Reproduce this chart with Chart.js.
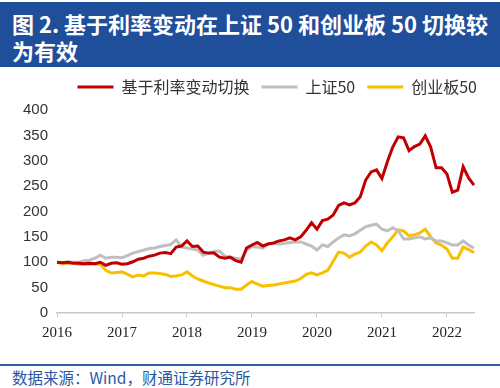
<!DOCTYPE html>
<html>
<head>
<meta charset="utf-8">
<script src="https://cdn.jsdelivr.net/npm/chart.js@4"></script>
<style>
  body { margin: 0; width: 500px; height: 388px; background: #fff; position: relative; overflow: hidden; }
  .titulo {
    position: absolute; top: 2px; left: 0; width: 488px; height: 57px;
    padding: 8px 0 0 12px; background: #1f4e9b; color: #fff;
    font: bold 22px "Noto Sans CJK SC", sans-serif; line-height: 27px;
  }
  .grafico { position: absolute; top: 70px; left: 0; width: 500px; height: 279px; }
  .linha { position: absolute; top: 364px; left: 0; width: 500px; height: 2px; background: #2f5fa8; }
  .fonte {
    position: absolute; top: 366px; left: 12px; color: #2858a5;
    font: 15.5px "Noto Sans CJK SC", sans-serif;
  }
</style>
</head>
<body>
<div class="titulo">图 2. 基于利率变动在上证 50 和创业板 50 切换较<br>为有效</div>
<div class="grafico"><canvas id="myChart" width="500" height="279"></canvas></div>
<div class="linha"></div>
<div class="fonte">数据来源：Wind，财通证券研究所</div>

<script>
// meses de 2016-01 a 2022-06
const meses = [];
for (let a = 2016; a <= 2022; a++) {
    for (let m = 1; m <= 12; m++) {
        if (a === 2022 && m > 6) break;
        meses.push(a + '-' + String(m).padStart(2, '0'));
    }
}

const nomes = ['基于利率变动切换', '上证50', '创业板50'];

const trocaJuros = [
    100, 99, 100, 98, 98, 97, 98, 97, 100, 94, 98, 99,
    96, 97, 101, 106, 108, 112, 114, 118, 119, 117, 130, 132,
    142, 131, 132, 120, 118, 118, 110, 108, 110, 103, 100, 128,
    134, 139, 132, 136, 138, 142, 144, 148, 144, 150, 163, 178,
    165, 182, 185, 193, 212, 217, 213, 217, 229, 262, 278, 282,
    265, 298, 327, 347, 345, 320, 328, 333, 349, 327, 286, 286,
    274, 238, 242, 288, 266, 252
];

const sz50 = [
    100, 99, 101, 100, 100, 103, 104, 108, 114, 108, 110, 110,
    109, 113, 118, 121, 124, 127, 128, 131, 133, 135, 144, 130,
    128, 126, 124, 114, 118, 121, 122, 112, 110, 108, 106, 124,
    131, 130, 128, 137, 137, 136, 137, 139, 140, 140, 136, 132,
    124, 134, 131, 140, 148, 154, 152, 156, 163, 170, 173, 175,
    165, 162, 168, 162, 146, 146, 148, 150, 146, 148, 142, 142,
    138, 134, 134, 142, 134, 128
];

const cyb50 = [
    100, 97, 98, 99, 96, 96, 96, 97, 96, 84, 79, 80,
    81, 76, 71, 75, 73, 79, 79, 78, 76, 72, 73, 75,
    81, 73, 67, 63, 59, 56, 53, 50, 50, 47, 47, 55,
    62, 57, 53, 54, 55, 57, 59, 61, 63, 68, 76, 79,
    75, 79, 84, 102, 120, 118, 110, 116, 120, 132, 140, 134,
    123, 138, 150, 164, 162, 152, 154, 158, 165, 150, 138, 134,
    126, 108, 108, 130, 125, 119
];

const cores = ['#c00000', '#bfbfbf', '#f8c000'];

// legenda: um pouco mais de espaço embaixo e deslocada para a direita
const ajusteLegenda = {
    id: 'ajusteLegenda',
    beforeInit(chart) {
        const leg = chart.legend;
        const fit = leg.fit;
        leg.fit = function () {
            fit.call(this);
            this.height += 2;
        };
        const draw = leg.draw;
        leg.draw = function () {
            const c = this.ctx;
            c.save();
            c.translate(15, -3);
            draw.call(this);
            c.restore();
        };
    }
};

const ctx = document.getElementById('myChart');

new Chart(ctx, {
    type: 'line',
    data: {
        labels: meses,
        datasets: [trocaJuros, sz50, cyb50].map((serie, i) => ({
            label: nomes[i],
            data: serie,
            borderColor: cores[i],
            backgroundColor: cores[i],
            borderWidth: 3,
            pointRadius: 0,
            tension: 0,
            fill: false
        }))
    },
    plugins: [ajusteLegenda],
    options: {
        responsive: false,
        animation: false,
        layout: { padding: { left: 14, right: 26, top: 0, bottom: 0 } },
        plugins: {
            legend: {
                position: 'top',
                align: 'end',
                labels: {
                    usePointStyle: true,
                    pointStyle: 'line',
                    pointStyleWidth: 36,
                    padding: 12,
                    color: '#333',
                    font: { family: '"Noto Sans CJK SC"', size: 16 }
                }
            },
            tooltip: { enabled: false }
        },
        scales: {
            x: {
                grid: { display: true, drawOnChartArea: false, drawTicks: true, tickLength: 4, color: '#c8c8c8' },
                border: { color: '#c8c8c8', width: 1.5 },
                ticks: {
                    autoSkip: false,
                    maxRotation: 0,
                    padding: 7,
                    color: '#222',
                    font: { family: '"Liberation Serif"', size: 15 },
                    callback: function (v, i) {
                        const lab = meses[i];
                        return lab.endsWith('-01') ? lab.slice(0, 4) : null;
                    }
                }
            },
            y: {
                min: 0,
                max: 400,
                grid: { display: false, drawTicks: false },
                border: { display: false },
                ticks: {
                    stepSize: 50,
                    padding: 9,
                    color: '#333',
                    font: { family: '"Liberation Sans"', size: 15 }
                }
            }
        }
    }
});
</script>
</body>
</html>
